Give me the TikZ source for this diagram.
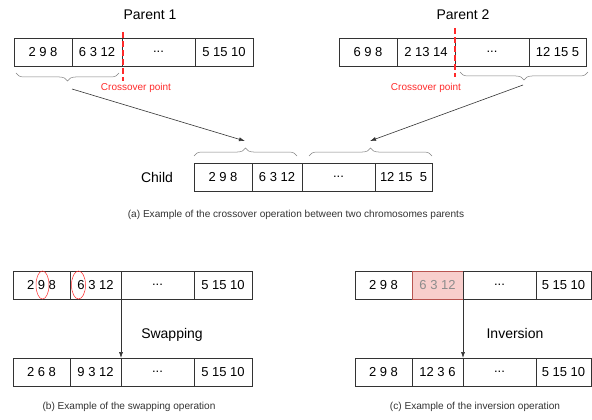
\documentclass[tikz,border=0pt]{standalone}
\usepackage{fontspec}
\setmainfont{Liberation Sans}
\usetikzlibrary{positioning, arrows.meta, calc, decorations.pathreplacing}
\definecolor{xred}{HTML}{FF2A2A}
\definecolor{invfill}{HTML}{F8CECC}
\definecolor{invdraw}{HTML}{B85450}
\tikzset{
	gene/.style={draw=black!80, line width=.6pt, minimum height=28pt, inner sep=0pt, outer sep=0pt, font=\fontsize{13}{15}\selectfont},
	headtext/.style={font=\fontsize{14}{16}\selectfont},
	captext/.style={font=\fontsize{10.1}{12}\selectfont, text=black!80},
	cutline/.style={xred, line width=.7mm, dash pattern=on 6pt off 3pt},
	cutlabel/.style={text=xred, font=\fontsize{10}{12}\selectfont},
	curlyup/.style={draw=black!50, line width=.5pt, decorate, decoration={brace, amplitude=8pt}},
	curlydown/.style={draw=black!50, line width=.5pt, decorate, decoration={brace, mirror, amplitude=8pt}},
	link/.style={draw=black!80, line width=.6pt, -{Latex[length=6pt,width=4pt]}},
}
\begin{document}
\begin{tikzpicture}[x=1pt, y=-1pt]
	\useasboundingbox (0,0) rectangle (592,420);
	% parents
	\node[headtext] (par1) at (150,15) {Parent 1};
	\node[gene, minimum width=58pt, anchor=west] (p1a) at (14,52) {2 9 8};
	\node[gene, minimum width=50pt, right=0pt of p1a] (p1b) {6 3 12};
	\node[gene, minimum width=73pt, right=0pt of p1b] (p1c) {...};
	\node[gene, minimum width=58pt, right=0pt of p1c] (p1d) {5 15 10};
	\node[headtext] (par2) at (463,15) {Parent 2};
	\node[gene, minimum width=58pt, anchor=west] (p2a) at (339,52) {6 9 8};
	\node[gene, minimum width=58pt, right=0pt of p2a] (p2b) {2 13 14};
	\node[gene, minimum width=74pt, right=0pt of p2b] (p2c) {...};
	\node[gene, minimum width=57pt, right=0pt of p2c] (p2d) {12 15 5};
	\draw[cutline] ($(p1b.north east)+(1,-6)$) -- ($(p1b.south east)+(1,15)$);
	\draw[cutline] ($(p2b.north east)+(0,-10)$) -- ($(p2b.south east)+(0,11)$);
	\node[cutlabel] (cut1) at (136,88) {Crossover point};
	\node[cutlabel] (cut2) at (426,88) {Crossover point};
	\draw[curlydown] ($(p1a.south west)+(2,7)$) -- ($(p1b.south east)+(-3,7)$);
	\draw[curlydown] ($(p2c.south west)+(5,6)$) -- ($(p2d.south east)+(2,6)$);
	% child
	\node[headtext] (kid) at (157,177) {Child};
	\node[gene, minimum width=58pt, anchor=west] (ca) at (194,177) {2 9 8};
	\node[gene, minimum width=50pt, right=0pt of ca] (cb) {6 3 12};
	\node[gene, minimum width=73pt, right=0pt of cb] (cc) {...};
	\node[gene, minimum width=57pt, right=0pt of cc] (cd) {12 15 \ 5};
	\draw[curlyup] ($(ca.north west)+(0,-7)$) -- ($(cb.north east)+(-5,-7)$);
	\draw[curlyup] ($(cc.north west)+(7,-7)$) -- ($(cd.north east)+(0,-7)$);
	\coordinate (f1) at (72,89);
	\coordinate (t1) at (245,141);
	\coordinate (f2) at (523,85);
	\coordinate (t2) at (370,141);
	\draw[link] (f1) -- (t1);
	\draw[link] (f2) -- (t2);
	\node[captext] (capa) at (296,215) {(a) Example of the crossover operation between two chromosomes parents};
	% swapping
	\node[gene, minimum width=57pt, anchor=west] (s1a) at (13,285) {2 9 8};
	\node[gene, minimum width=51pt, right=0pt of s1a] (s1b) {6 3 12};
	\node[gene, minimum width=73pt, right=0pt of s1b] (s1c) {...};
	\node[gene, minimum width=58pt, right=0pt of s1c] (s1d) {5 15 10};
	\draw[xred, line width=.5pt] (42.5,285) ellipse (6.5pt and 14pt);
	\draw[xred, line width=.5pt] (78.5,285) ellipse (7pt and 14pt);
	\node[gene, minimum width=57pt, anchor=west] (s2a) at (13,372) {2 6 8};
	\node[gene, minimum width=51pt, right=0pt of s2a] (s2b) {9 3 12};
	\node[gene, minimum width=73pt, right=0pt of s2b] (s2c) {...};
	\node[gene, minimum width=58pt, right=0pt of s2c] (s2d) {5 15 10};
	\draw[link] (s1b.south east) -- (s2b.north east);
	\node[headtext] (swp) at (172,335) {Swapping};
	\node[captext] (capb) at (129,407) {(b) Example of the swapping operation};
	% inversion
	\node[gene, minimum width=57pt, anchor=west] (i1a) at (355,285) {2 9 8};
	\node[gene, minimum width=51pt, right=0pt of i1a, fill=invfill, draw=invdraw, text=black!45] (i1b) {6 3 12};
	\node[gene, minimum width=73pt, right=0pt of i1b] (i1c) {...};
	\node[gene, minimum width=55pt, right=0pt of i1c] (i1d) {5 15 10};
	\node[gene, minimum width=57pt, anchor=west] (i2a) at (355,372) {2 9 8};
	\node[gene, minimum width=51pt, right=0pt of i2a] (i2b) {12 3 6};
	\node[gene, minimum width=73pt, right=0pt of i2b] (i2c) {...};
	\node[gene, minimum width=55pt, right=0pt of i2c] (i2d) {5 15 10};
	\draw[link] (i1b.south east) -- (i2b.north east);
	\node[headtext] (inv) at (515,333) {Inversion};
	\node[captext] (capc) at (475,407) {(c) Example of the inversion operation};
\end{tikzpicture}
\end{document}
